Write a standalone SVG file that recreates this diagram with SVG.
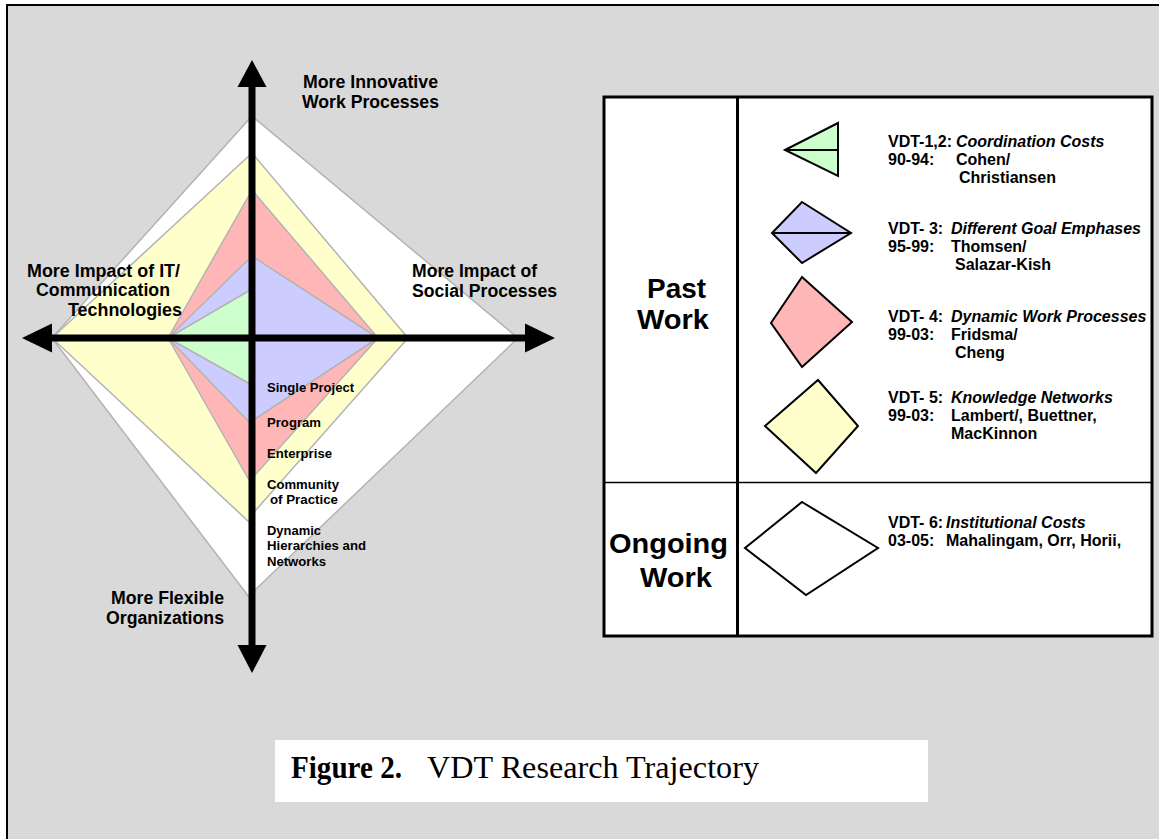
<svg xmlns="http://www.w3.org/2000/svg" width="1159" height="839" viewBox="0 0 1159 839">
  <style>
    .layer { stroke: #b3b3b3; stroke-width: 1.5; stroke-linejoin: round; }
    .axlbl { font-family: "Liberation Sans", Arial, sans-serif; font-weight: bold; font-size: 18px; fill: #000; }
    .sm { font-family: "Liberation Sans", Arial, sans-serif; font-weight: bold; font-size: 13.5px; fill: #000; }
    .lg { font-family: "Liberation Sans", Arial, sans-serif; font-weight: bold; font-size: 16px; fill: #000; }
    .it { font-style: italic; }
    .big { font-family: "Liberation Sans", Arial, sans-serif; font-weight: bold; font-size: 27px; fill: #000; }
    .sym { stroke: #000; stroke-width: 2; stroke-linejoin: miter; }
    .axis { stroke: #000; stroke-width: 7; fill: none; }
    .head { fill: #000; stroke: none; }
    .cap { font-family: "Liberation Serif", "Times New Roman", serif; font-size: 31px; fill: #000; }
  </style>

  <rect x="0" y="0" width="1159" height="839" fill="#ffffff"/>
  <rect id="page" x="7" y="5" width="1165" height="845" fill="#d9d9d9" stroke="#000" stroke-width="2"/>

  <!-- trajectory layers -->
  <g id="layer-vdt6"><polygon class="layer" fill="#ffffff" points="252,116 518,338 255,590 249,597 52,338"/></g>
  <g id="layer-vdt5"><polygon class="layer" fill="#ffffcc" points="252,153 408,338 255,511 249,522 52,338"/></g>
  <g id="layer-vdt4"><polygon class="layer" fill="#ffb6b6" points="252,190 378,338 255,475 249,480 168,338"/></g>
  <g id="layer-vdt3"><polygon class="layer" fill="#ccccff" points="252,256 378,338 255,419 249,422 168,338"/></g>
  <g id="layer-vdt12"><polygon class="layer" fill="#ccffcc" points="252,289 252,385 168,338"/></g>

  <!-- axes -->
  <g id="connectors">
    <line class="axis" x1="252" y1="84" x2="252" y2="648"/>
    <polygon class="head" points="252,60 237.5,87 266.5,87"/>
    <polygon class="head" points="252,673 237.5,645 266.5,645"/>
    <line class="axis" x1="49" y1="338" x2="528" y2="338"/>
    <polygon class="head" points="22,338 52,323.5 52,352.5"/>
    <polygon class="head" points="555,338 525,323.5 525,352.5"/>
  </g>

  <!-- axis labels -->
  <g id="label-top">
    <text class="axlbl" x="303" y="88" textLength="135" lengthAdjust="spacingAndGlyphs">More Innovative</text>
    <text class="axlbl" x="302" y="108" textLength="137" lengthAdjust="spacingAndGlyphs">Work Processes</text>
  </g>
  <g id="label-left">
    <text class="axlbl" x="27" y="277" textLength="153" lengthAdjust="spacingAndGlyphs">More Impact of IT/</text>
    <text class="axlbl" x="36" y="296" textLength="134" lengthAdjust="spacingAndGlyphs">Communication</text>
    <text class="axlbl" x="68" y="316" textLength="114" lengthAdjust="spacingAndGlyphs">Technologies</text>
  </g>
  <g id="label-right">
    <text class="axlbl" x="412" y="277" textLength="125" lengthAdjust="spacingAndGlyphs">More Impact of</text>
    <text class="axlbl" x="412" y="297" textLength="145" lengthAdjust="spacingAndGlyphs">Social Processes</text>
  </g>
  <g id="label-bottom">
    <text class="axlbl" x="111" y="604" textLength="113" lengthAdjust="spacingAndGlyphs">More Flexible</text>
    <text class="axlbl" x="106" y="624" textLength="118" lengthAdjust="spacingAndGlyphs">Organizations</text>
  </g>
  <g id="scope-labels">
    <text class="sm" x="267" y="392" textLength="87" lengthAdjust="spacingAndGlyphs">Single Project</text>
    <text class="sm" x="267" y="427" textLength="54" lengthAdjust="spacingAndGlyphs">Program</text>
    <text class="sm" x="267" y="458" textLength="65" lengthAdjust="spacingAndGlyphs">Enterprise</text>
    <text class="sm" x="267" y="489" textLength="72" lengthAdjust="spacingAndGlyphs">Community</text>
    <text class="sm" x="270" y="504" textLength="68" lengthAdjust="spacingAndGlyphs">of Practice</text>
    <text class="sm" x="267" y="535" textLength="54" lengthAdjust="spacingAndGlyphs">Dynamic</text>
    <text class="sm" x="267" y="550" textLength="99" lengthAdjust="spacingAndGlyphs">Hierarchies and</text>
    <text class="sm" x="267" y="566" textLength="59" lengthAdjust="spacingAndGlyphs">Networks</text>
  </g>

  <!-- legend -->
  <g id="legend">
    <rect x="604" y="97" width="548" height="539" fill="#ffffff" stroke="#000" stroke-width="3"/>
    <line x1="737.5" y1="97" x2="737.5" y2="636" stroke="#000" stroke-width="3"/>
    <line x1="604" y1="482.5" x2="1152" y2="482.5" stroke="#000" stroke-width="1.5"/>
    <text class="big" x="647" y="298" textLength="59" lengthAdjust="spacingAndGlyphs">Past</text>
    <text class="big" x="637" y="329" textLength="72" lengthAdjust="spacingAndGlyphs">Work</text>
    <text class="big" x="609" y="553" textLength="119" lengthAdjust="spacingAndGlyphs">Ongoing</text>
    <text class="big" x="640" y="587" textLength="72" lengthAdjust="spacingAndGlyphs">Work</text>
  </g>

  <g id="legend-vdt12">
    <polygon class="sym" fill="#ccffcc" points="785,150 838,123 838,176"/>
    <line x1="785" y1="150" x2="838" y2="150" stroke="#000" stroke-width="2"/>
    <text class="lg" x="888" y="147">VDT-1,2: <tspan class="it" x="956">Coordination Costs</tspan></text>
    <text class="lg" x="888" y="165">90-94:<tspan x="956">Cohen/</tspan></text>
    <text class="lg" x="959" y="183">Christiansen</text>
  </g>
  <g id="legend-vdt3">
    <polygon class="sym" fill="#ccccff" points="802,202 851,233 802,263 772,233"/>
    <line x1="772" y1="233" x2="851" y2="233" stroke="#000" stroke-width="2"/>
    <text class="lg" x="888" y="234">VDT- 3: <tspan class="it" x="951">Different Goal Emphases</tspan></text>
    <text class="lg" x="888" y="252">95-99:<tspan x="951">Thomsen/</tspan></text>
    <text class="lg" x="955" y="270">Salazar-Kish</text>
  </g>
  <g id="legend-vdt4">
    <polygon class="sym" fill="#ffb6b6" points="802,277 852,322 802,367 771,323"/>
    <text class="lg" x="888" y="322">VDT- 4: <tspan class="it" x="951">Dynamic Work Processes</tspan></text>
    <text class="lg" x="888" y="340">99-03:<tspan x="951">Fridsma/</tspan></text>
    <text class="lg" x="955" y="358">Cheng</text>
  </g>
  <g id="legend-vdt5">
    <polygon class="sym" fill="#ffffcc" points="818,380 858,426 816,473 765,426"/>
    <text class="lg" x="888" y="403">VDT- 5: <tspan class="it" x="951">Knowledge Networks</tspan></text>
    <text class="lg" x="888" y="421">99-03:<tspan x="951">Lambert/, Buettner,</tspan></text>
    <text class="lg" x="951" y="439">MacKinnon</text>
  </g>
  <g id="legend-vdt6">
    <polygon class="sym" fill="#ffffff" points="802,502 878,548 806,595 745,548"/>
    <text class="lg" x="888" y="528">VDT- 6: <tspan class="it" x="946">Institutional Costs</tspan></text>
    <text class="lg" x="888" y="546">03-05:<tspan x="946">Mahalingam, Orr, Horii,</tspan></text>
  </g>

  <!-- caption -->
  <g id="caption">
    <rect x="275" y="740" width="653" height="62" fill="#ffffff"/>
    <text class="cap" x="291" y="778" font-weight="bold" textLength="111" lengthAdjust="spacingAndGlyphs">Figure 2.</text>
    <text class="cap" x="427" y="778" textLength="332" lengthAdjust="spacingAndGlyphs">VDT Research Trajectory</text>
  </g>
</svg>
